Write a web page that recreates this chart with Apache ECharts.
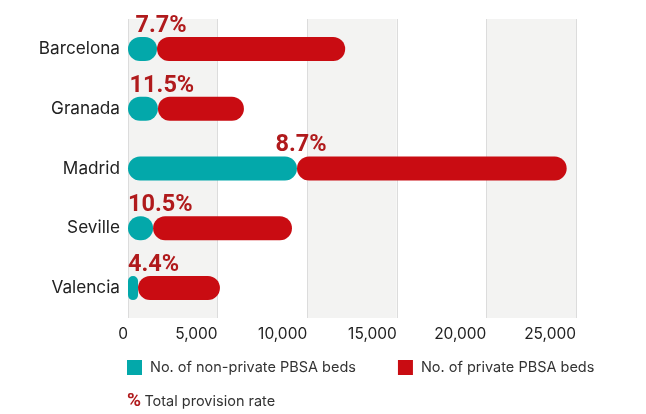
<!DOCTYPE html>
<html>
<head>
<meta charset="utf-8">
<script src="https://cdn.jsdelivr.net/npm/echarts@6/dist/echarts.min.js"></script>
<style>
  html, body { margin: 0; padding: 0; background: #fff; }
  #chart { width: 646px; height: 414px; }
</style>
</head>
<body>
<div id="chart"></div>
<script>
// PBSA bed supply by city
const cities = ['Barcelona', 'Granada', 'Madrid', 'Seville', 'Valencia'];
const nonPrivateBeds = [1620, 1670, 9430, 1400, 560];
const privateBeds = [10500, 4800, 15050, 7750, 4570];
const provisionRate = ['7.7%', '11.5%', '8.7%', '10.5%', '4.4%'];
const xTicks = [0, 5000, 10000, 15000, 20000, 25000];

const TEAL = '#03a8aa';
const RED = '#c90c12';
const LABEL_RED = '#b01a1c';
const FONT = 'Inter, Roboto, "Noto Sans", sans-serif';
const BOLD_FONT = 'Roboto, Inter, sans-serif';

const chart = echarts.init(document.getElementById('chart'), null, { renderer: 'canvas' });

chart.setOption({
  animation: false,
  backgroundColor: '#ffffff',
  grid: { left: 128, right: 70, top: 19, bottom: 96, containLabel: false },
  xAxis: {
    type: 'value',
    min: xTicks[0],
    max: xTicks[xTicks.length - 1],
    interval: xTicks[1] - xTicks[0],
    axisLine: { show: false },
    axisTick: { show: false },
    axisLabel: {
      color: '#222',
      fontFamily: FONT,
      fontSize: 15.5,
      margin: 8,
      align: 'right',
      formatter: v => v.toLocaleString('en-US')
    },
    splitLine: { show: true, lineStyle: { color: '#dcdcdc', width: 1 } },
    splitArea: { show: true, areaStyle: { color: ['#f3f3f2', '#ffffff'] } }
  },
  yAxis: {
    type: 'category',
    data: cities,
    inverse: true,
    axisLine: { show: false },
    axisTick: { show: false },
    axisLabel: { color: '#222', fontFamily: FONT, fontSize: 17.2, margin: 8 }
  },
  legend: {
    left: 127,
    top: 360,
    padding: 0,
    itemWidth: 15,
    itemHeight: 15,
    itemGap: 42,
    icon: 'rect',
    textStyle: { color: '#333', fontFamily: FONT, fontSize: 14.5, padding: [0, 0, 0, 3] },
    data: ['No. of non-private PBSA beds', 'No. of private PBSA beds']
  },
  graphic: [{
    type: 'text',
    left: 127,
    top: 392,
    style: {
      text: '{p|%} {t|Total provision rate}',
      rich: {
        p: { fill: LABEL_RED, fontFamily: BOLD_FONT, fontSize: 19, fontWeight: 'bold' },
        t: { fill: '#333', fontFamily: FONT, fontSize: 14.5 }
      }
    }
  }],
  series: [
    {
      name: 'No. of non-private PBSA beds',
      type: 'bar',
      stack: 'beds',
      barWidth: 24,
      data: nonPrivateBeds,
      itemStyle: { color: TEAL, borderRadius: 12 },
      label: {
        show: true,
        formatter: p => provisionRate[p.dataIndex],
        color: LABEL_RED,
        fontFamily: BOLD_FONT,
        fontSize: 23.5,
        fontWeight: 'bold'
      },
      labelLayout: p => {
        const r = p.rect;
        const half = p.labelRect.width / 2;
        const cx = r.x + r.width + 4;
        return {
          x: Math.max(cx - half, r.x),
          y: r.y + 1,
          align: 'left',
          verticalAlign: 'bottom'
        };
      }
    },
    {
      name: 'No. of private PBSA beds',
      type: 'bar',
      stack: 'beds',
      barWidth: 24,
      data: privateBeds,
      itemStyle: { color: RED, borderRadius: 12 }
    }
  ]
});
</script>
</body>
</html>
